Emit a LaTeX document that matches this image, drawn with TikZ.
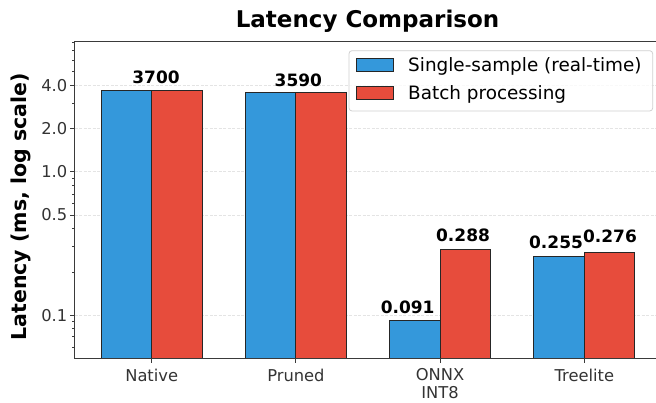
\documentclass[tikz,border=0pt]{standalone}
\usepackage{fontspec}
\setmainfont{DejaVu Sans}
\definecolor{my_blue}{HTML}{3498DB}
\definecolor{my_red}{HTML}{E74C3C}
\definecolor{my_spine}{HTML}{3A3A3A}
\definecolor{my_grid}{HTML}{E4E4E4}
\definecolor{my_frame}{HTML}{D0D0D0}
\definecolor{my_text}{HTML}{333333}

\begin{document}
\begin{tikzpicture}[
    x=144.2pt, y=143.5pt,
    bar/.style={draw=black!85, line width=1pt},
    gridline/.style={my_grid, line width=0.7pt, dash pattern=on 3pt off 1.5pt},
    spine/.style={my_spine, line width=0.9pt},
    ticklabel/.style={my_text, inner sep=0pt, font=\fontsize{16.3}{17.5}\selectfont},
    vallabel/.style={anchor=south, inner sep=0pt, font=\bfseries\fontsize{17}{17}\selectfont},
    pix/.style={x=1pt, y=-1pt, shift={(-151.7pt,171.8pt)}}
]
\useasboundingbox (-151.7pt,-231.2pt) rectangle ++(656pt,403pt);

% Gitterlinien (nur Hauptticks)
\foreach \v in {0.1, 0.5, 1, 2, 4}
    \draw[gridline] (-0.535, {log10(\v)}) -- (3.497, {log10(\v)});

% Balken: einzeln (blau) und Batch (rot)
\foreach \i/\s/\b in {0/3.7/3.7, 1/3.59/3.59, 2/0.091/0.288, 3/0.255/0.276} {
    \draw[bar, fill=my_blue] ({\i-0.35}, -1.30103) rectangle (\i, {log10(\s)});
    \draw[bar, fill=my_red] (\i, -1.30103) rectangle ({\i+0.35}, {log10(\b)});
}

% Achsenrahmen
\draw[spine] (3.497, 0.9115) -- (-0.535, 0.9115) -- (-0.535, -1.30103) -- (3.497, -1.30103);

% y-Ticks (log)
\foreach \v in {0.06, 0.07, 0.08, 0.09, 0.2, 0.3, 0.4, 0.6, 0.7, 0.8, 0.9, 3, 5, 6, 7, 8}
    \draw[spine] (-0.535, {log10(\v)}) -- ++(-2.5pt, 0);
\foreach \v/\t [count=\k] in {0.1/0.1, 0.5/0.5, 1/1.0, 2/2.0, 4/4.0}
    \draw[spine] (-0.535, {log10(\v)}) -- ++(-4.3pt, 0)
        node[ticklabel, anchor=east, xshift=-2.5pt] (yt\k) {\t};

% x-Ticks
\foreach \i/\t [count=\k] in {0/Native, 1/Pruned, 2/ONNX\\INT8, 3/Treelite}
    \draw[spine] (\i, -1.30103) -- ++(0, -4.3pt)
        node[ticklabel, anchor=north, yshift=-5.5pt, align=center] (xt\k) {\t};

% Werte ueber den Balken
\foreach \x/\v/\t/\g [count=\k] in {0.03/3.7/3700/6, 1.017/3.59/3590/5.5,
        1.775/0.091/0.091/7.5, 2.159/0.288/0.288/7.5,
        2.804/0.255/0.255/8.5, 3.178/0.276/0.276/9}
    \node[vallabel, yshift=\g pt] (val\k) at (\x, {log10(\v)}) {\t};

% Titel, Achsenbeschriftung, Legende (Pixelkoordinaten)
\begin{scope}[pix]
\node[anchor=base, inner sep=0pt, font=\bfseries\fontsize{23}{23}\selectfont]
    (title) at (367.5, 27.7) {Latency Comparison};
\node[rotate=90, inner sep=0pt, font=\bfseries\fontsize{20.5}{20.5}\selectfont]
    (ylab) at (21, 207) {Latency (ms, log scale)};
\draw[my_frame, fill=white, fill opacity=0.8, rounded corners=3pt, line width=0.8pt]
    (349, 50.7) rectangle (652.7, 111);
\draw[bar, fill=my_blue] (356, 59) rectangle (393, 72);
\draw[bar, fill=my_red] (356, 86.5) rectangle (393, 99.3);
\node[anchor=base west, inner sep=0pt, font=\fontsize{18.4}{18.4}\selectfont]
    (single) at (408, 71.7) {Single-sample (real-time)};
\node[anchor=base west, inner sep=0pt, font=\fontsize{18.4}{18.4}\selectfont]
    (batch) at (408, 99.3) {Batch processing};
\end{scope}

\end{tikzpicture}
\end{document}
